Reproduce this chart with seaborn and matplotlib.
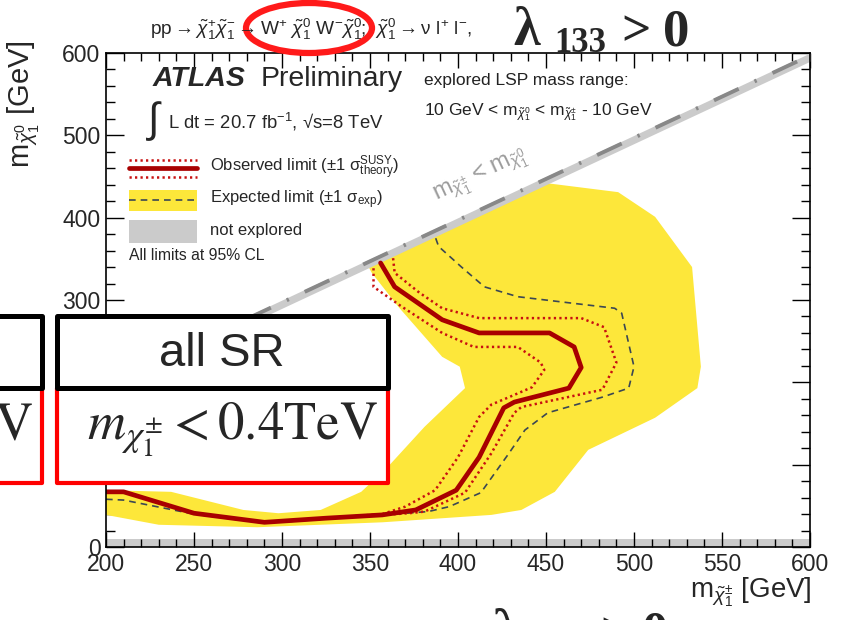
import numpy as np
import matplotlib
matplotlib.use("Agg")
import matplotlib.pyplot as plt
import seaborn as sns
from matplotlib.patches import Rectangle, Ellipse
from matplotlib.lines import Line2D
from matplotlib.ticker import MultipleLocator

# ---------------------------------------------------------------- data (GeV)
# observed exclusion contour
obs_x = [200, 210, 250, 290, 325, 357, 376, 399, 412, 426, 432, 463, 470, 466, 452, 412, 391, 364, 356]
obs_y = [67, 67, 41, 30, 35, 39, 45, 69, 109, 169, 176, 193, 218, 243, 260, 260, 276, 316, 345]
# observed -1 sigma theory
obs_dn_x = [200, 210, 250, 290, 325, 357, 370, 387, 400, 412, 419, 429, 442, 449, 447, 434, 409, 391, 368, 352, 352]
obs_dn_y = [67, 67, 41, 30, 35, 40, 49, 69, 109, 158, 173, 182, 194, 215, 224, 243, 243, 260, 292, 316, 341]
# observed +1 sigma theory
obs_up_x = [200, 210, 250, 290, 325, 357, 372, 381, 404, 419, 432, 436, 482, 490, 483, 470, 412, 391, 378, 364, 363]
obs_up_y = [67, 67, 41, 30, 35, 39, 41, 43, 66, 114, 163, 170, 191, 224, 267, 278, 278, 290, 309, 333, 353]
# expected exclusion contour
exp_x = [200, 210, 250, 290, 325, 357, 383, 395, 413, 429, 438, 451, 482, 497, 500, 493, 489, 434, 415, 402, 389, 387]
exp_y = [58, 57, 40, 29, 34, 39, 43, 49, 66, 114, 142, 163, 182, 193, 219, 284, 290, 304, 316, 340, 365, 377]
# expected +-1 sigma band: outer edge, then inner edge
band_out_x = [450, 491, 512, 533, 538, 536, 512, 474, 455, 436, 419, 357, 286, 230, 200]
band_out_y = [442, 431, 401, 340, 219, 193, 157, 118, 67, 45, 39, 30, 24, 27, 39]
band_in_x = [200, 237, 278, 298, 322, 345, 360, 381, 404, 401, 391, 366, 351, 349]
band_in_y = [69, 67, 45, 41, 45, 67, 97, 146, 193, 219, 231, 292, 333, 341]

x_ticks = [200, 250, 300, 350, 400, 450, 500, 550, 600]
y_ticks = [0, 100, 200, 300, 400, 500, 600]

# ---------------------------------------------------------------- style
sns.set_theme(style="ticks")
plt.rcParams["font.family"] = ["Liberation Sans", "DejaVu Sans"]
plt.rcParams["mathtext.fontset"] = "custom"
plt.rcParams["mathtext.rm"] = "Liberation Sans"
plt.rcParams["mathtext.it"] = "Liberation Sans:italic"
plt.rcParams["mathtext.bf"] = "Liberation Sans:bold"
plt.rcParams["mathtext.sf"] = "Liberation Sans"

YELLOW = "#fde73a"
DARKRED = "#a80000"
DOTRED = "#c81010"
EXPGRAY = "#3b4753"
LIGHTGRAY = "#cbcbcb"

W, H = 846, 620
fig = plt.figure(figsize=(W / 100, H / 100), dpi=100)
fig.patch.set_facecolor("white")


def fx(px):
    return px / W


def fy(py):
    return 1 - py / H


AX_L, AX_R, AX_T, AX_B = 106, 810, 53, 547
ax = fig.add_axes([fx(AX_L), fy(AX_B), (AX_R - AX_L) / W, (AX_B - AX_T) / H])
ax.set_facecolor("white")


def axx(px):
    return (px - AX_L) / (AX_R - AX_L)


def axy(py):
    return (AX_B - py) / (AX_B - AX_T)


# expected band
ax.fill(band_out_x + band_in_x, band_out_y + band_in_y, color=YELLOW, lw=0, zorder=1)

# not-explored regions
diag = np.array([180.0, 620.0])
ax.fill_between(diag, diag - 10, diag, color=LIGHTGRAY, lw=0, zorder=3)
ax.plot(diag, diag - 3, color="#888888", lw=2.8, dashes=(7, 4.5, 0.6, 4.5), zorder=3.5)
ax.axhspan(0, 10, color=LIGHTGRAY, lw=0, zorder=0.5)

# contours
sns.lineplot(x=exp_x, y=exp_y, sort=False, estimator=None, color=EXPGRAY, lw=1.2,
             dashes=False, linestyle=(0, (4, 3)), ax=ax, zorder=4)
sns.lineplot(x=obs_dn_x, y=obs_dn_y, sort=False, estimator=None, color=DOTRED, lw=1.8,
             linestyle=(0, (0.9, 1.3)), ax=ax, zorder=4)
sns.lineplot(x=obs_up_x, y=obs_up_y, sort=False, estimator=None, color=DOTRED, lw=1.8,
             linestyle=(0, (0.9, 1.3)), ax=ax, zorder=4)
sns.lineplot(x=obs_x, y=obs_y, sort=False, estimator=None, color=DARKRED, lw=3.4,
             ax=ax, zorder=5)

# axes, ticks
ax.set_xlim(200, 600)
ax.set_ylim(0, 600)
ax.set_xticks(x_ticks)
ax.set_yticks(y_ticks)
ax.xaxis.set_minor_locator(MultipleLocator(10))
ax.yaxis.set_minor_locator(MultipleLocator(20))
ax.tick_params(which="both", direction="in", top=True, right=True, labelsize=16.5,
               color="black", width=1.0)
ax.tick_params(axis="x", which="major", length=11, pad=4)
ax.tick_params(axis="x", which="minor", length=5.5)
ax.tick_params(axis="y", which="major", length=13, pad=4)
ax.tick_params(axis="y", which="minor", length=6.5)
for s in ax.spines.values():
    s.set_linewidth(1.2)
    s.set_color("black")
    s.set_zorder(6)

ax.set_xlabel(r"m$_{\tilde{\chi}^{\pm}_{1}}$ [GeV]", fontsize=20, loc="right")
ax.xaxis.set_label_coords(axx(812), axy(592))
ax.xaxis.label.set_va("center")
ax.set_ylabel(r"m$_{\tilde{\chi}^{0}_{1}}$ [GeV]", fontsize=21, loc="top")
ax.yaxis.set_label_coords(axx(24), axy(40))
ax.yaxis.label.set_va("center")

# kinematic boundary label
ax.text(388, 421, r"m$_{\tilde{\chi}^{\pm}_{1}}$ < m$_{\tilde{\chi}^{0}_{1}}$", color="#9c9c9c",
        fontsize=17, rotation=25.1, rotation_mode="anchor", ha="left", va="baseline", zorder=4)

# ATLAS label and luminosity
T = ax.transAxes
ax.text(axx(153), axy(86), "ATLAS", transform=T, fontsize=20.5, weight="bold", style="italic",
        va="baseline", zorder=7)
ax.text(axx(261), axy(86), "Preliminary", transform=T, fontsize=20.5, va="baseline", zorder=7)
ax.text(axx(148), axy(121), "∫", transform=T, fontsize=30, va="center", zorder=7)
ax.text(axx(168), axy(122), r"L dt = 20.7 fb$^{-1}$, √s=8 TeV", transform=T, fontsize=13.3,
        va="center", zorder=7)

# explored range note
ax.text(axx(424), axy(80), "explored LSP mass range:", transform=T, fontsize=12.5, va="center",
        color="#222222", zorder=7)
ax.text(axx(424), axy(112), r"10 GeV < m$_{\tilde{\chi}^{0}_{1}}$ < m$_{\tilde{\chi}^{\pm}_{1}}$ - 10 GeV",
        transform=T, fontsize=12.5, va="center", color="#222222", zorder=7)

# legend
lx0, lx1 = axx(129), axx(197)
ax.add_line(Line2D([lx0, lx1], [axy(168), axy(168)], transform=T, color=DARKRED, lw=3.4, zorder=7))
for yy in (160, 177):
    ax.add_line(Line2D([lx0, lx1], [axy(yy), axy(yy)], transform=T, color=DOTRED, lw=1.8,
                       linestyle=(0, (0.9, 1.3)), zorder=7))
ax.add_patch(Rectangle((lx0, axy(211)), lx1 - lx0, axy(190) - axy(211), transform=T,
                       color=YELLOW, lw=0, zorder=7))
ax.add_line(Line2D([lx0, lx1], [axy(200), axy(200)], transform=T, color=EXPGRAY, lw=1.2,
                   linestyle=(0, (4, 3)), zorder=8))
ax.add_patch(Rectangle((lx0, axy(243)), lx1 - lx0, axy(220) - axy(243), transform=T,
                       color=LIGHTGRAY, lw=0, zorder=7))
ax.text(axx(210), axy(168), r"Observed limit (±1 σ$^{\mathrm{SUSY}}_{\mathrm{theory}}$)",
        transform=T, fontsize=12, va="center", zorder=7)
ax.text(axx(210), axy(200), r"Expected limit (±1 σ$_{\mathrm{exp}}$)", transform=T,
        fontsize=12, va="center", zorder=7)
ax.text(axx(210), axy(231), "not explored", transform=T, fontsize=12, va="center", zorder=7)
ax.text(axx(129), axy(255), "All limits at 95% CL", transform=T, fontsize=11.3, va="center",
        zorder=7)

# process line above the frame
fig.text(fx(150), fy(29),
         r"pp$\rightarrow\tilde{\chi}^{+}_{1}\tilde{\chi}^{-}_{1}\rightarrow$W$^{+}$ $\tilde{\chi}^{0}_{1}$ "
         r"W$^{-}\tilde{\chi}^{0}_{1}$;  $\tilde{\chi}^{0}_{1}\rightarrow$ν l$^{+}$ l$^{-}$,",
         fontsize=13.8, va="center")
fig.add_artist(Ellipse((fx(309), fy(28)), 126 / W, 50 / H, transform=fig.transFigure,
                       fill=False, ec="#ff1a1a", lw=4.5))


def coupling(x0, base):
    kw = dict(fontfamily=["Liberation Serif", "DejaVu Serif"], weight="bold", va="baseline")
    fig.text(fx(x0), fy(base), "λ", fontsize=39, **kw)
    fig.text(fx(x0 + 41), fy(base + 7), "133", fontsize=25, **kw)
    fig.text(fx(x0 + 108), fy(base), ">", fontsize=37, **kw)
    fig.text(fx(x0 + 150), fy(base), "0", fontsize=38, **kw)


coupling(513, 45)
coupling(492, 647)

# signal-region boxes
for x0, x1 in ((-60, 42), (57, 388)):
    fig.add_artist(Rectangle((fx(x0), fy(483)), (x1 - x0) / W, (483 - 388) / H,
                             transform=fig.transFigure, fc="white", ec="#ff0000", lw=3.0,
                             joinstyle="round", zorder=10))
    fig.add_artist(Rectangle((fx(x0), fy(388)), (x1 - x0) / W, (388 - 316) / H,
                             transform=fig.transFigure, fc="white", ec="black", lw=3.6,
                             joinstyle="round", zorder=11))
fig.text(fx(222), fy(354), "all SR", fontsize=34, ha="center", va="center", zorder=12)
fig.text(fx(232), fy(440), r"$m_{\chi_1^{\pm}} < 0.4\mathrm{TeV}$", math_fontfamily="stix",
         fontsize=38, ha="center", va="baseline", zorder=12)
fig.text(fx(33), fy(440), r"$\mathrm{TeV}$", math_fontfamily="stix", fontsize=38, ha="right",
         va="baseline", zorder=12)

fig.savefig("out.png", dpi=100, facecolor="white")
